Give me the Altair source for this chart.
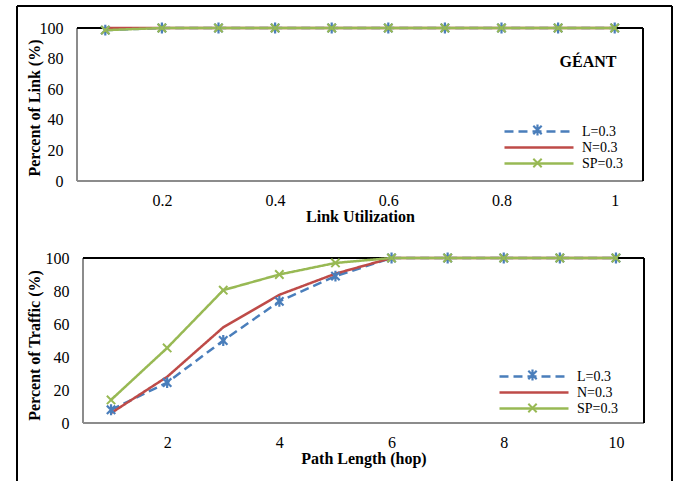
import altair as alt
import pandas as pd

FONT = "Liberation Serif"

series = ["L=0.3", "N=0.3", "SP=0.3"]
colors = ["#4A7EBB", "#BE4B48", "#98B954"]
dashes = [[9, 5], [1, 0], [1, 0]]

# Top panel: Percent of Link vs Link Utilization
util = [0.1, 0.2, 0.3, 0.4, 0.5, 0.6, 0.7, 0.8, 0.9, 1.0]
link_L = [98.6, 100, 100, 100, 100, 100, 100, 100, 100, 100]
link_N = [100, 100, 100, 100, 100, 100, 100, 100, 100, 100]
link_SP = [98.6, 100, 100, 100, 100, 100, 100, 100, 100, 100]
util_ticks = [0.2, 0.4, 0.6, 0.8, 1.0]

# Bottom panel: Percent of Traffic vs Path Length
hops = [1, 2, 3, 4, 5, 6, 7, 8, 9, 10]
traffic_L = [8, 24.5, 50, 73.7, 89, 100, 100, 100, 100, 100]
traffic_N = [6, 28, 58, 77.7, 90.5, 100, 100, 100, 100, 100]
traffic_SP = [14, 45.5, 80.5, 90, 97, 100, 100, 100, 100, 100]
hop_ticks = [2, 4, 6, 8, 10]

y_ticks = [0, 20, 40, 60, 80, 100]

XSHAPE = "M-1,-1L1,1M-1,1L1,-1"
STAR = "M-1,-1L1,1M-1,1L1,-1M0,-1.3L0,1.3"

# legend line symbol (unit = 7 px with symbolSize 196)
LEG_LINE = "M-4.93,0L4.93,0"
ROW_PITCH = 16.5


def long_df(xs, ys_list):
    rows = []
    for s, ys in zip(series, ys_list):
        for x, y in zip(xs, ys):
            rows.append({"x": x, "y": y, "series": s})
    return pd.DataFrame(rows)


def panel(df, xdomain, xrange, width, height, xticks, xfmt, xtitle, ytitle,
          left, ylabelpad, ytitle_y, legend_xy, annotation=None, outer=None):
    one = alt.Data(values=[{"k": 0}])
    lx, ly = legend_xy
    legend = alt.Legend(
        orient="none", legendX=lx, legendY=ly, title=None,
        symbolType=LEG_LINE, symbolSize=196, symbolStrokeWidth=2.5,
        labelFont=FONT, labelFontSize=14, labelColor="black", labelOffset=34.5,
        rowPadding=0, padding=0, labelLimit=200,
    )
    if xrange is not None:
        xscale = alt.Scale(domain=xdomain, range=xrange, nice=False, zero=False)
    else:
        xscale = alt.Scale(domain=xdomain, nice=False, zero=False)
    xenc = alt.X(
        "x:Q", scale=xscale,
        axis=alt.Axis(values=xticks, format=xfmt, title=xtitle, grid=False,
                      domain=False, ticks=False, tickSize=0, labelPadding=11,
                      labelOverlap=False,
                      labelFont=FONT, labelFontSize=16, labelColor="black",
                      titleFont=FONT, titleFontSize=16, titleFontWeight="bold",
                      titleColor="black", titlePadding=0),
    )
    yenc = alt.Y(
        "y:Q", scale=alt.Scale(domain=[0, 100], nice=False),
        axis=alt.Axis(values=y_ticks, title=ytitle, grid=False, domain=False,
                      ticks=False, tickSize=0, labelPadding=ylabelpad,
                      labelOverlap=False,
                      labelFont=FONT, labelFontSize=16, labelColor="black",
                      titleFont=FONT, titleFontSize=16, titleFontWeight="bold",
                      titleColor="black", titleX=-35, titleY=ytitle_y,
                      titleAngle=270, titleBaseline="bottom", titleAlign="center"),
    )
    base = alt.Chart(df)
    lines = base.mark_line(strokeWidth=2.5).encode(
        x=xenc, y=yenc,
        color=alt.Color("series:N", scale=alt.Scale(domain=series, range=colors), legend=legend),
        strokeDash=alt.StrokeDash("series:N", scale=alt.Scale(domain=series, range=dashes), legend=legend),
    )
    pts_L = base.transform_filter(alt.datum.series == "L=0.3").mark_point(
        shape=STAR, filled=False, size=70, strokeWidth=2.2, color=colors[0], opacity=1
    ).encode(x=xenc, y=yenc)
    pts_SP = base.transform_filter(alt.datum.series == "SP=0.3").mark_point(
        shape=XSHAPE, filled=False, size=70, strokeWidth=2, color=colors[2], opacity=1
    ).encode(x=xenc, y=yenc)

    # legend markers drawn over the legend line symbols
    cx = lx + 7
    leg_mark_L = alt.Chart(one).mark_point(
        shape=STAR, filled=False, size=70, strokeWidth=2.2, color=colors[0], opacity=1
    ).encode(x=alt.value(cx), y=alt.value(ly + 7))
    leg_mark_SP = alt.Chart(one).mark_point(
        shape=XSHAPE, filled=False, size=70, strokeWidth=2, color=colors[2], opacity=1
    ).encode(x=alt.value(cx), y=alt.value(ly + 7 + 2 * ROW_PITCH))

    gray = "#8C8C8C"
    frame = [
        alt.Chart(one).mark_rule(color=gray, strokeWidth=2).encode(
            x=alt.value(left), y=alt.value(0), y2=alt.value("height")),
        alt.Chart(one).mark_rule(color=gray, strokeWidth=2).encode(
            x=alt.value(left), x2=alt.value("width"), y=alt.value("height")),
        alt.Chart(one).mark_rule(color="black", strokeWidth=2).encode(
            x=alt.value(left), x2=alt.value("width"), y=alt.value(0)),
        alt.Chart(one).mark_rule(color="black", strokeWidth=2).encode(
            x=alt.value("width"), y=alt.value(0), y2=alt.value("height")),
    ]
    if outer is not None:
        ox0, oy0, ox1, oy1 = outer
        frame += [
            alt.Chart(one).mark_rule(color="black", strokeWidth=2).encode(
                x=alt.value(ox0), y=alt.value(oy0), y2=alt.value(oy1)),
            alt.Chart(one).mark_rule(color="black", strokeWidth=2).encode(
                x=alt.value(ox0), x2=alt.value(ox1), y=alt.value(oy0)),
            alt.Chart(one).mark_rule(color="black", strokeWidth=2).encode(
                x=alt.value(ox1), y=alt.value(oy0), y2=alt.value(oy1)),
        ]
    layers = frame + [lines, pts_L, pts_SP]
    if annotation is not None:
        txt, ax, ay = annotation
        layers.append(
            alt.Chart(one).mark_text(text=txt, font=FONT, fontSize=16, fontWeight="bold",
                                     color="black", align="center", baseline="middle")
            .encode(x=alt.value(ax), y=alt.value(ay))
        )
    layers += [leg_mark_L, leg_mark_SP]
    return alt.layer(*layers).properties(width=width, height=height)


top = panel(
    long_df(util, [link_L, link_N, link_SP]),
    xdomain=[0.05, 1.05], xrange=None, width=566, height=153,
    xticks=util_ticks, xfmt="~g", xtitle="Link Utilization",
    ytitle="Percent of Link (%)", left=0, ylabelpad=14, ytitle_y=79.5,
    legend_xy=(453.5, 95), annotation=("GÉANT", 511, 34),
    outer=(-60, -22, 595, 453),
)

bottom = panel(
    long_df(hops, [traffic_L, traffic_N, traffic_SP]),
    xdomain=[0.5, 10.5], xrange=[6, 567], width=567, height=165,
    xticks=hop_ticks, xfmt="d", xtitle="Path Length (hop)",
    ytitle="Percent of Traffic (%)", left=6, ylabelpad=8, ytitle_y=87,
    legend_xy=(448.5, 110),
)

chart = (
    alt.vconcat(top, bottom, spacing=77, bounds="flush")
    .resolve_scale(color="independent", strokeDash="independent")
    .properties(padding={"left": 16, "top": 5, "right": 0, "bottom": 0}, background="white")
    .configure_view(stroke=None)
)

chart.save("out.html", embed_options={"renderer": "svg", "actions": False})
